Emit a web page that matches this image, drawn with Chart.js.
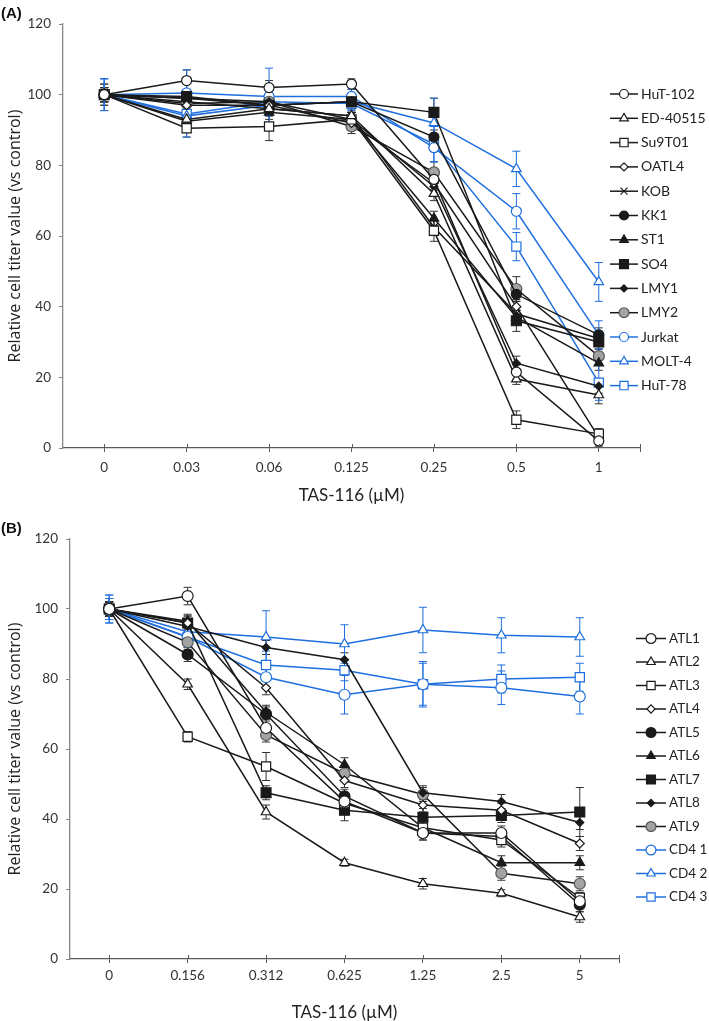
<!DOCTYPE html>
<html>
<head>
<meta charset="utf-8">
<script src="https://cdn.jsdelivr.net/npm/chart.js@4/dist/chart.umd.min.js"></script>
<style>
  body { margin: 0; background: #fff; width: 709px; height: 1021px; overflow: hidden; position: relative; }
  canvas { position: absolute; left: 0; }
  .tag { position: absolute; left: 1px; font: bold 15px 'Liberation Sans', Arial, sans-serif; color: #111; }
</style>
</head>
<body>
<canvas id="chart-a" width="709" height="512" style="top:0"></canvas>
<canvas id="chart-b" width="709" height="513" style="top:510px"></canvas>
<div class="tag" style="top:4px">(A)</div>
<div class="tag" style="top:519px">(B)</div>
<script>
/* ============================================================
   TAS-116 dose response — two line panels with error bars
   ============================================================ */

// ─── Data: panel A ──────────────────────────────────────────
const dosesA = ['0', '0.03', '0.06', '0.125', '0.25', '0.5', '1'];
const cellsA = ['HuT-102', 'ED-40515', 'Su9T01', 'OATL4', 'KOB', 'KK1', 'ST1', 'SO4', 'LMY1', 'LMY2', 'Jurkat', 'MOLT-4', 'HuT-78'];
const valuesA = [
  [100, 104, 102, 103, 76, 21.5, 2],
  [100, 93, 96, 94, 72, 19.5, 15],
  [100, 90.5, 91, 93, 61.5, 8, 4],
  [100, 97, 97, 92, 75, 40, 3],
  [100, 98, 96, 94, 62.5, 38, 31],
  [100, 99, 97, 98, 88, 43.5, 32],
  [100, 92.5, 95, 93, 65, 37, 24],
  [100, 99.5, 97, 98, 95, 36, 30],
  [100, 99, 98, 93, 74, 24, 17.5],
  [100, 97.5, 98, 91, 78, 45, 26],
  [100, 100.5, 99.5, 99.5, 85, 67, 32],
  [100, 94, 97, 98, 92, 79, 47],
  [100, 94.5, 98, 97.5, 86, 57, 18.5],
];
const errorsA = [
  [3, 3, 2, 1.5, 3, 2, 1.5],
  [2, 2, 2, 2, 2, 1.5, 2.5],
  [3, 2.5, 4, 2, 3, 2.5, 1.5],
  [2, 2, 2, 2, 2, 2, 1.5],
  [2, 2, 2, 2, 2, 2, 2],
  [2, 2, 2, 1.5, 2, 2, 2],
  [2, 2, 2, 2, 2, 2, 2],
  [2, 2, 2, 1.5, 4, 3, 2],
  [2, 2, 2, 2, 2, 2, 2],
  [2, 2, 2, 2, 3, 3.5, 2],
  [4.5, 6.5, 8, 2, 4, 5, 4],
  [4.5, 3, 3, 2, 7, 5, 5.5],
  [4.5, 6.5, 3, 2, 5, 4, 5],
];

// ─── Data: panel B ──────────────────────────────────────────
const dosesB = ['0', '0.156', '0.312', '0.625', '1.25', '2.5', '5'];
const cellsB = ['ATL1', 'ATL2', 'ATL3', 'ATL4', 'ATL5', 'ATL6', 'ATL7', 'ATL8', 'ATL9', 'CD4 1', 'CD4 2', 'CD4 3'];
const valuesB = [
  [100, 103.7, 66, 45, 36, 36, 16.5],
  [100, 78.5, 42, 27.5, 21.5, 18.8, 12],
  [100, 63.5, 55, 44.5, 37.5, 34, 17.5],
  [100, 96, 77.5, 51, 44, 42.5, 33],
  [100, 87, 70, 46.5, 36, 35, 15.5],
  [100, 96.5, 70.5, 55.5, 37.5, 27.5, 27.5],
  [100, 96, 47.5, 42.5, 40.5, 41, 42],
  [100, 95, 89, 85.5, 47.5, 45, 39],
  [100, 90.5, 64, 53, 47, 24.5, 21.5],
  [100, 92, 80.5, 75.5, 78.5, 77.5, 75],
  [100, 93.5, 92, 90, 94, 92.5, 92],
  [100, 92, 84, 82.5, 78.5, 80, 80.5],
];
const errorsB = [
  [3, 2.5, 3, 2, 2, 2, 2],
  [2, 1.5, 2, 1, 1.5, 1, 1.5],
  [3, 1.5, 4, 2, 2.5, 2, 1.5],
  [2, 2, 2, 2, 2, 2, 2],
  [2, 2, 2, 2, 2, 2, 2],
  [2, 2, 2, 2, 2, 2, 2],
  [2, 2, 2, 3, 2.5, 2, 7],
  [2, 2, 2, 2, 2, 2, 2],
  [2, 2, 2, 2, 2, 2, 2],
  [3, 3, 3, 5.5, 6.5, 4.8, 5],
  [4, 3, 7.5, 5.5, 6.5, 5, 5.5],
  [4, 3, 4, 3, 6, 4, 4],
];

// ─── Marker styles ──────────────────────────────────────────
const BLACK = '#1a1a1a';
const BLUE = '#1f6fdf';
const GREY = '#a3a3a3';
const OPEN = (shape, r) => ({ shape, r, fill: '#fff', edge: BLACK, line: BLACK });
const SOLID = (shape, r) => ({ shape, r, fill: BLACK, edge: BLACK, line: BLACK });
const BLUE_OPEN = (shape, r) => ({ shape, r, fill: '#fff', edge: BLUE, line: BLUE });
const GREY_DOT = { shape: 'circle', r: 5.5, fill: GREY, edge: '#555', line: BLACK };

const stylesA = [
  OPEN('circle', 5), OPEN('triangle', 5.5), OPEN('rect', 6.5), OPEN('rectRot', 4.5), OPEN('crossRot', 5.5),
  SOLID('circle', 5), SOLID('triangle', 5.5), SOLID('rect', 7), SOLID('rectRot', 4), GREY_DOT,
  BLUE_OPEN('circle', 5), BLUE_OPEN('triangle', 5.5), BLUE_OPEN('rect', 6.5),
];
const stylesB = [
  OPEN('circle', 5.5), OPEN('triangle', 5.5), OPEN('rect', 6.5), OPEN('rectRot', 4.5),
  SOLID('circle', 5.5), SOLID('triangle', 5.5), SOLID('rect', 7), SOLID('rectRot', 4), GREY_DOT,
  BLUE_OPEN('circle', 5.5), BLUE_OPEN('triangle', 5.5), BLUE_OPEN('rect', 6.5),
];

// ─── Plugins ────────────────────────────────────────────────
const errorBars = {
  id: 'errorBars',
  beforeDatasetsDraw(chart) {
    const { ctx, scales: { x, y } } = chart;
    chart.data.datasets.forEach(ds => {
      ctx.save();
      ctx.strokeStyle = ds.borderColor === BLUE ? BLUE : '#333';
      ctx.lineWidth = 1;
      ds.data.forEach((v, j) => {
        const e = ds.errors[j];
        const px = x.getPixelForValue(j);
        const top = y.getPixelForValue(v + e);
        const bot = y.getPixelForValue(v - e);
        ctx.beginPath();
        ctx.moveTo(px, top); ctx.lineTo(px, bot);
        ctx.moveTo(px - 4, top); ctx.lineTo(px + 4, top);
        ctx.moveTo(px - 4, bot); ctx.lineTo(px + 4, bot);
        ctx.stroke();
      });
      ctx.restore();
    });
  }
};

const crossTicks = {
  id: 'crossTicks',
  afterDraw(chart) {
    const { ctx, chartArea, scales: { x } } = chart;
    ctx.save();
    ctx.strokeStyle = '#5a5a5a';
    ctx.lineWidth = 1;
    ctx.beginPath();
    x.ticks.forEach((t, i) => {
      const px = Math.round(x.getPixelForTick(i)) + 0.5;
      ctx.moveTo(px, chartArea.bottom - 4); ctx.lineTo(px, chartArea.bottom);
    });
    const rx = Math.round(chartArea.right) + 0.5;
    ctx.moveTo(rx, chartArea.bottom - 4); ctx.lineTo(rx, chartArea.bottom + 4);
    ctx.stroke();
    ctx.restore();
  }
};

const sideLegend = {
  id: 'sideLegend',
  afterDraw(chart, args, o) {
    const ctx = chart.ctx;
    chart.data.datasets.forEach((ds, i) => {
      const y = o.top + i * o.step;
      ctx.save();
      ctx.strokeStyle = ds.borderColor;
      ctx.lineWidth = 1.5;
      ctx.beginPath(); ctx.moveTo(o.x0, y); ctx.lineTo(o.x1, y); ctx.stroke();
      ctx.fillStyle = ds.pointBackgroundColor;
      ctx.strokeStyle = ds.pointBorderColor;
      ctx.lineWidth = ds.pointBorderWidth;
      Chart.helpers.drawPoint(ctx, { pointStyle: ds.pointStyle, radius: ds.pointRadius * 0.9, borderWidth: ds.pointBorderWidth }, (o.x0 + o.x1) / 2, y);
      ctx.fillStyle = '#222';
      ctx.font = o.font;
      ctx.textBaseline = 'middle';
      ctx.fillText(ds.label, o.x1 + 3, y);
      ctx.restore();
    });
  }
};

// ─── Chart builder ──────────────────────────────────────────
function buildDatasets(names, values, errors, styles) {
  return names.map((name, i) => {
    const s = styles[i];
    return {
      label: name,
      data: values[i],
      errors: errors[i],
      borderColor: s.line,
      borderWidth: 1.5,
      tension: 0,
      pointStyle: s.shape,
      pointRadius: s.r,
      pointHoverRadius: s.r,
      pointBackgroundColor: s.fill,
      pointBorderColor: s.edge,
      pointBorderWidth: 1.2,
    };
  });
}

function createPanel(id, doses, names, values, errors, styles, geo) {
  const ctx = document.getElementById(id).getContext('2d');
  return new Chart(ctx, {
    type: 'line',
    data: { labels: doses, datasets: buildDatasets(names, values, errors, styles) },
    plugins: [errorBars, crossTicks, sideLegend],
    options: {
      responsive: false,
      animation: false,
      events: [],
      layout: { padding: { top: geo.top, right: geo.right, left: 0, bottom: 0 } },
      plugins: {
        legend: { display: false },
        tooltip: { enabled: false },
        sideLegend: geo.legend,
      },
      scales: {
        x: {
          offset: true,
          grid: { drawOnChartArea: false, color: '#5a5a5a', tickLength: 4, offset: false },
          border: { color: '#5a5a5a', width: 1.3 },
          ticks: { color: '#333', font: { family: 'Lato', size: 13.5 }, padding: geo.tickPad, maxRotation: 0 },
          title: {
            display: true, text: 'TAS-116 (µM)', color: '#222',
            font: { family: 'Lato', size: 17 }, padding: { top: 0, bottom: geo.titlePad },
          },
          afterFit: s => { s.height = geo.xHeight; },
        },
        y: {
          min: 0, max: 120,
          ticks: { stepSize: 20, color: '#333', font: { family: 'Lato', size: 13.5 }, padding: 8 },
          grid: { drawOnChartArea: false, color: '#888', tickLength: 4 },
          border: { color: '#888', width: 1.3 },
          title: {
            display: true, text: 'Relative cell titer value (vs control)', color: '#222',
            font: { family: 'Open Sans', size: 16 }, padding: { top: 6, bottom: 0 },
          },
          afterFit: s => { s.width = geo.yWidth; },
        },
      },
    },
  });
}

// ─── Init ───────────────────────────────────────────────────
createPanel('chart-a', dosesA, cellsA, valuesA, errorsA, stylesA, {
  top: 24, right: 69, yWidth: 63, xHeight: 64, tickPad: 8, titlePad: 6,
  legend: { x0: 610, x1: 638, top: 94, step: 24.3, font: "14px Lato, 'Open Sans', sans-serif" },
});
createPanel('chart-b', dosesB, cellsB, valuesB, errorsB, stylesB, {
  top: 29, right: 90, yWidth: 70, xHeight: 64, tickPad: 5, titlePad: 0,
  legend: { x0: 636, x1: 666, top: 128.5, step: 23.5, font: "13.5px Lato, 'Open Sans', sans-serif" },
});
</script>
</body>
</html>
